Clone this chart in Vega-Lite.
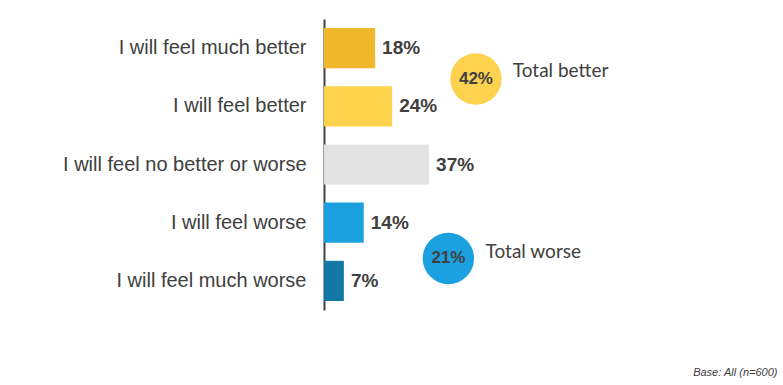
{
  "$schema": "https://vega.github.io/schema/vega-lite/v6.json",
  "width": 284,
  "height": 291,
  "autosize": {"type": "none"},
  "padding": {"left": 324, "top": 19, "right": 175, "bottom": 75},
  "background": "white",
  "config": {
    "view": {"stroke": null},
    "font": "Liberation Sans",
    "axisY": {"domainColor": "#404040", "domainWidth": 2, "ticks": false, "labelFontSize": 20, "labelColor": "#404040", "labelPadding": 18, "labelFont": "Liberation Sans", "grid": false, "labelLimit": 400}
  },
  "title": {"text": "Base: All (n=600)", "orient": "bottom", "anchor": "end", "fontSize": 11, "fontStyle": "italic", "fontWeight": "normal", "color": "#404040", "font": "Liberation Sans", "dx": 169, "offset": 57, "baseline": "top"},
  "datasets": {
    "responses": [
      {"answer": "I will feel much better", "value": 0.18},
      {"answer": "I will feel better", "value": 0.24},
      {"answer": "I will feel no better or worse", "value": 0.37},
      {"answer": "I will feel worse", "value": 0.14},
      {"answer": "I will feel much worse", "value": 0.07}
    ],
    "better": [{"answer": "I will feel much better", "label": "Total better", "value": 0.42}],
    "worse": [{"answer": "I will feel worse", "label": "Total worse", "value": 0.21}]
  },
  "layer": [
    {
      "data": {"name": "responses"},
      "mark": {"type": "bar"},
      "encoding": {
        "y": {"field": "answer", "type": "nominal", "title": null, "sort": ["I will feel much better", "I will feel better", "I will feel no better or worse", "I will feel worse", "I will feel much worse"], "scale": {"paddingInner": 0.31, "paddingOuter": 0.155}},
        "x": {"field": "value", "type": "quantitative", "axis": null, "scale": {"domain": [0, 1]}},
        "color": {"field": "answer", "type": "nominal", "legend": null, "scale": {"domain": ["I will feel much better", "I will feel better", "I will feel no better or worse", "I will feel worse", "I will feel much worse"], "range": ["#EFB92B", "#FDD34D", "#E3E3E3", "#1BA1E0", "#1478A7"]}}
      }
    },
    {
      "data": {"name": "responses"},
      "mark": {"type": "text", "align": "left", "baseline": "middle", "dx": 7, "fontSize": 19, "fontWeight": "bold", "color": "#404040", "font": "Liberation Sans"},
      "encoding": {
        "y": {"field": "answer", "type": "nominal", "title": null, "sort": ["I will feel much better", "I will feel better", "I will feel no better or worse", "I will feel worse", "I will feel much worse"]},
        "x": {"field": "value", "type": "quantitative", "axis": null},
        "text": {"field": "value", "type": "quantitative", "format": ".0%"}
      }
    },
    {
      "data": {"name": "better"},
      "mark": {"type": "circle", "size": 2640, "opacity": 1, "color": "#FDD24F"},
      "encoding": {
        "y": {"field": "answer", "type": "nominal", "title": null, "bandPosition": 1.27, "sort": ["I will feel much better", "I will feel better", "I will feel no better or worse", "I will feel worse", "I will feel much worse"]},
        "x": {"datum": 0.535, "type": "quantitative", "axis": null}
      }
    },
    {
      "data": {"name": "better"},
      "mark": {"type": "text", "align": "center", "baseline": "middle", "fontSize": 17, "fontWeight": "bold", "color": "#404040", "font": "Liberation Sans"},
      "encoding": {
        "y": {"field": "answer", "type": "nominal", "title": null, "bandPosition": 1.27, "sort": ["I will feel much better", "I will feel better", "I will feel no better or worse", "I will feel worse", "I will feel much worse"]},
        "x": {"datum": 0.535, "type": "quantitative", "axis": null},
        "text": {"field": "value", "type": "quantitative", "format": ".0%"}
      }
    },
    {
      "data": {"name": "better"},
      "mark": {"type": "text", "align": "left", "baseline": "middle", "fontSize": 19, "color": "#404040", "font": "Lato"},
      "encoding": {
        "y": {"field": "answer", "type": "nominal", "title": null, "bandPosition": 1.075, "sort": ["I will feel much better", "I will feel better", "I will feel no better or worse", "I will feel worse", "I will feel much worse"]},
        "x": {"datum": 0.665, "type": "quantitative", "axis": null},
        "text": {"field": "label", "type": "nominal"}
      }
    },
    {
      "data": {"name": "worse"},
      "mark": {"type": "circle", "size": 2640, "opacity": 1, "color": "#1BA1DF"},
      "encoding": {
        "y": {"field": "answer", "type": "nominal", "title": null, "bandPosition": 1.39, "sort": ["I will feel much better", "I will feel better", "I will feel no better or worse", "I will feel worse", "I will feel much worse"]},
        "x": {"datum": 0.438, "type": "quantitative", "axis": null}
      }
    },
    {
      "data": {"name": "worse"},
      "mark": {"type": "text", "align": "center", "baseline": "middle", "fontSize": 17, "fontWeight": "bold", "color": "#404040", "font": "Liberation Sans"},
      "encoding": {
        "y": {"field": "answer", "type": "nominal", "title": null, "bandPosition": 1.39, "sort": ["I will feel much better", "I will feel better", "I will feel no better or worse", "I will feel worse", "I will feel much worse"]},
        "x": {"datum": 0.438, "type": "quantitative", "axis": null},
        "text": {"field": "value", "type": "quantitative", "format": ".0%"}
      }
    },
    {
      "data": {"name": "worse"},
      "mark": {"type": "text", "align": "left", "baseline": "middle", "fontSize": 19, "color": "#404040", "font": "Lato"},
      "encoding": {
        "y": {"field": "answer", "type": "nominal", "title": null, "bandPosition": 1.22, "sort": ["I will feel much better", "I will feel better", "I will feel no better or worse", "I will feel worse", "I will feel much worse"]},
        "x": {"datum": 0.569, "type": "quantitative", "axis": null},
        "text": {"field": "label", "type": "nominal"}
      }
    }
  ]
}
